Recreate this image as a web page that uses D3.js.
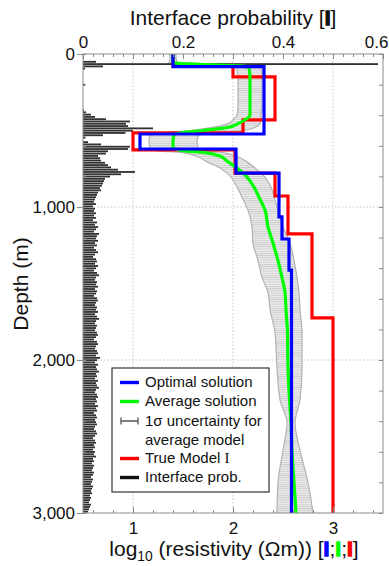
<!DOCTYPE html>
<html><head><meta charset="utf-8">
<script src="https://cdn.jsdelivr.net/npm/d3@7"></script>
<style>html,body{margin:0;padding:0;background:#fff;} svg{display:block;font-family:"Liberation Sans",Arial,sans-serif;}</style>
</head><body><svg id="c" width="389" height="566"></svg>
<script>
// ---------------- data ----------------
const probTicks = [0, 0.2, 0.4, 0.6];
const resTicks = [1, 2, 3];
const depthTicks = [0, 1000, 2000, 3000];
const resGrid = [1, 2, 3];
const depthGrid = [1000, 2000];
const maxDepth = 3000;

// True model (layer tops, log10 resistivity)
const trueTop = [0, 80, 150, 430, 516, 627, 778, 928, 1176, 1725];
const trueRes = [1.40, 2.00, 2.42, 2.10, 1.00, 2.02, 2.42, 2.55, 2.79, 3.00];

// Optimal solution
const optTop = [0, 83, 523, 621, 778, 1065, 1209, 1412];
const optRes = [1.40, 2.31, 1.07, 2.03, 2.46, 2.49, 2.56, 2.585];

// Average solution and 1-sigma bounds
const avgDepth = [0, 30, 55, 65, 72, 78, 90, 150, 250, 350, 400, 430, 455, 480, 500, 515, 530, 570, 610, 630, 645, 665, 705, 745, 790, 870, 950, 1020, 1130, 1235, 1350, 1460, 1560, 1670, 1820, 2050, 2260, 2410, 2590, 2800, 3000];
const avgRes   = [1.40, 1.40, 1.40, 1.55, 1.87, 2.08, 2.16, 2.17, 2.17, 2.17, 2.17, 2.12, 2.05, 1.95, 1.70, 1.48, 1.41, 1.40, 1.40, 1.48, 1.72, 1.86, 1.95, 2.04, 2.12, 2.21, 2.27, 2.32, 2.35, 2.40, 2.45, 2.49, 2.52, 2.53, 2.545, 2.55, 2.565, 2.58, 2.59, 2.61, 2.63];
const sdLow    = [1.37, 1.37, 1.36, 1.35, 1.60, 1.90, 2.03, 2.05, 2.05, 2.05, 2.04, 2.00, 1.95, 1.80, 1.58, 1.35, 1.17, 1.16, 1.17, 1.20, 1.50, 1.62, 1.74, 1.87, 1.96, 2.04, 2.10, 2.15, 2.19, 2.20, 2.25, 2.29, 2.35, 2.37, 2.42, 2.44, 2.47, 2.54, 2.50, 2.45, 2.44];
const sdHigh   = [1.43, 1.43, 1.45, 1.80, 2.10, 2.25, 2.28, 2.29, 2.29, 2.29, 2.28, 2.28, 2.27, 2.22, 2.10, 1.80, 1.66, 1.64, 1.65, 1.70, 1.90, 2.02, 2.14, 2.22, 2.30, 2.38, 2.42, 2.45, 2.50, 2.57, 2.61, 2.64, 2.66, 2.67, 2.69, 2.69, 2.67, 2.62, 2.67, 2.75, 2.80];

// Interface probability histogram (15 m bins from the surface)
const histBin = 15;
const interfaceProb = [
  0, 0, 0, 0.026, 0.59, 0.04, 0.004, 0, 0, 0,
  0, 0, 0, 0.004, 0, 0, 0, 0, 0, 0,
  0, 0, 0, 0, 0.002, 0.006, 0.016, 0.024, 0.046, 0.094,
  0.086, 0.09, 0.14, 0.1, 0.085, 0.04, 0.005, 0, 0.01, 0.036,
  0.094, 0.09, 0.05, 0.046, 0.03, 0.034, 0.036, 0.044, 0.05, 0.056,
  0.07, 0.104, 0.076, 0.054, 0.044, 0.042, 0.04, 0.038, 0.034, 0.036,
  0.03, 0.028, 0.026, 0.024, 0.022, 0.026, 0.02, 0.024, 0.022, 0.026,
  0.022, 0.026, 0.02, 0.028, 0.024, 0.03, 0.026, 0.022, 0.032, 0.028,
  0.026, 0.03, 0.024, 0.028, 0.022, 0.026, 0.03, 0.024, 0.02, 0.026,
  0.028, 0.024, 0.03, 0.026, 0.022, 0.028, 0.032, 0.026, 0.024, 0.028,
  0.026, 0.03, 0.024, 0.028, 0.026, 0.022, 0.028, 0.03, 0.026, 0.024,
  0.028, 0.026, 0.03, 0.024, 0.028, 0.032, 0.026, 0.024, 0.028, 0.026,
  0.024, 0.028, 0.03, 0.026, 0.022, 0.028, 0.03, 0.026, 0.024, 0.028,
  0.03, 0.026, 0.034, 0.028, 0.024, 0.03, 0.026, 0.028, 0.032, 0.026,
  0.028, 0.024, 0.03, 0.026, 0.028, 0.032, 0.026, 0.024, 0.028, 0.03,
  0.026, 0.028, 0.024, 0.03, 0.026, 0.028, 0.022, 0.026, 0.028, 0.024,
  0.026, 0.028, 0.024, 0.022, 0.026, 0.028, 0.024, 0.02, 0.024, 0.026,
  0.022, 0.024, 0.02, 0.024, 0.022, 0.026, 0.02, 0.022, 0.018, 0.022,
  0.02, 0.018, 0.022, 0.02, 0.016, 0.02, 0.018, 0.016, 0.02, 0.018,
  0.016, 0.018, 0.014, 0.016, 0.014, 0.012, 0.016, 0.014, 0.012, 0.01
];

const legendItems = ["Optimal solution", "Average solution", "1σ uncertainty for", "average model", "True Model ", "Interface prob."];

// ---------------- drawing ----------------
const P = {left: 83, right: 383, top: 54, bottom: 513};
const svg = d3.select('#c');
const xRes = d3.scaleLinear().domain([0.5, 3.5]).range([P.left, P.right]);
const xProb = d3.scaleLinear().domain([0, 0.6]).range([P.left, P.right]);
const y = d3.scaleLinear().domain([0, maxDepth]).range([P.top, P.bottom]);
const axisCol = '#8a8a8a';

const defs = svg.append('defs');
defs.append('clipPath').attr('id', 'clip').append('rect')
  .attr('x', P.left).attr('y', P.top).attr('width', P.right - P.left).attr('height', P.bottom - P.top);
const pat = defs.append('pattern').attr('id', 'hatch').attr('patternUnits', 'userSpaceOnUse')
  .attr('width', 6).attr('height', 2.2);
pat.append('rect').attr('width', 6).attr('height', 2.2).attr('fill', '#ececec');
pat.append('rect').attr('width', 6).attr('height', 0.9).attr('fill', '#cacaca');

// grid
const grid = svg.append('g');
grid.selectAll('line.v').data(resGrid).join('line')
  .attr('x1', d => xRes(d)).attr('x2', d => xRes(d)).attr('y1', P.top).attr('y2', P.bottom)
  .attr('stroke', '#c4c4c4').attr('stroke-width', 1).attr('stroke-dasharray', '1.5,2');
grid.selectAll('line.h').data(depthGrid).join('line')
  .attr('y1', d => y(d)).attr('y2', d => y(d)).attr('x1', P.left).attr('x2', P.right)
  .attr('stroke', '#c4c4c4').attr('stroke-width', 1).attr('stroke-dasharray', '1.5,2');

const plot = svg.append('g').attr('clip-path', 'url(#clip)');

// uncertainty band
const bandData = avgDepth.map((d, i) => ({d, m: avgRes[i], lo: sdLow[i], hi: sdHigh[i]}));
plot.append('path').datum(bandData)
  .attr('d', d3.area().y(d => y(d.d)).x0(d => xRes(d.lo)).x1(d => xRes(d.hi)).curve(d3.curveMonotoneY))
  .attr('fill', 'url(#hatch)').attr('stroke', 'none');
['lo', 'hi'].forEach(k => {
  plot.append('path').datum(bandData)
    .attr('d', d3.line().y(d => y(d.d)).x(d => xRes(d[k])).curve(d3.curveMonotoneY))
    .attr('fill', 'none').attr('stroke', '#b2b2b2').attr('stroke-width', 1.2);
});

// histogram
const histData = interfaceProb.map((p, i) => ({top: i * histBin, p}));
plot.selectAll('rect.hist').data(histData).join('rect')
  .attr('x', P.left).attr('y', d => y(d.top))
  .attr('width', d => xProb(d.p) - xProb(0))
  .attr('height', (y(histBin) - y(0)) * 0.8)
  .attr('fill', '#333');

// step profiles
function stepPoints(tops, vals) {
  const pts = [];
  tops.forEach((t, i) => {
    const b = i < tops.length - 1 ? tops[i + 1] : maxDepth;
    pts.push([vals[i], t], [vals[i], b]);
  });
  return pts;
}
const lineGen = d3.line().x(d => xRes(d[0])).y(d => y(d[1]));
plot.append('path').attr('d', lineGen(stepPoints(trueTop, trueRes)))
  .attr('fill', 'none').attr('stroke', '#ff0000').attr('stroke-width', 3.2);
plot.append('path').datum(bandData)
  .attr('d', d3.line().y(d => y(d.d)).x(d => xRes(d.m)).curve(d3.curveMonotoneY))
  .attr('fill', 'none').attr('stroke', '#00ff00').attr('stroke-width', 3.2);
plot.append('path').attr('d', lineGen(stepPoints(optTop, optRes)))
  .attr('fill', 'none').attr('stroke', '#0000ff').attr('stroke-width', 3.2);

// frame
svg.append('rect').attr('x', P.left).attr('y', P.top).attr('width', P.right - P.left).attr('height', P.bottom - P.top)
  .attr('fill', 'none').attr('stroke', axisCol).attr('stroke-width', 1);

function styleAxis(g, fs) {
  g.select('.domain').remove();
  g.selectAll('.tick line').attr('stroke', axisCol);
  g.selectAll('.tick text').attr('fill', '#111').attr('font-size', fs).attr('font-family', '"Liberation Sans",Arial,sans-serif');
}
// left axis
svg.append('g').attr('transform', `translate(${P.left},0)`)
  .call(d3.axisLeft(y).tickValues(d3.range(0, maxDepth + 1, 200)).tickSize(-3).tickFormat(''))
  .call(g => styleAxis(g, 17));
svg.append('g').attr('transform', `translate(${P.left},0)`)
  .call(d3.axisLeft(y).tickValues(depthTicks).tickSize(6).tickPadding(2).tickFormat(d3.format(',')))
  .call(g => styleAxis(g, 17));
// right axis
svg.append('g').attr('transform', `translate(${P.right},0)`)
  .call(d3.axisRight(y).tickValues(d3.range(0, maxDepth + 1, 200)).tickSize(-4).tickFormat(''))
  .call(g => styleAxis(g, 17));
// top axis
svg.append('g').attr('transform', `translate(0,${P.top})`)
  .call(d3.axisTop(xProb).tickValues(d3.range(0, 0.6001, 0.02)).tickSize(-3).tickFormat(''))
  .call(g => styleAxis(g, 17));
svg.append('g').attr('transform', `translate(0,${P.top})`)
  .call(d3.axisTop(xProb).tickValues(d3.range(0, 0.6001, 0.1)).tickSize(-5).tickFormat(''))
  .call(g => styleAxis(g, 17));
svg.append('g').attr('transform', `translate(0,${P.top})`)
  .call(d3.axisTop(xProb).tickValues(probTicks).tickSize(0).tickPadding(6).tickFormat(d => d === 0 ? '0' : d3.format('.1f')(d)))
  .call(g => styleAxis(g, 17))
  .call(g => g.selectAll('.tick text').filter(d => d === probTicks[probTicks.length - 1])
    .attr('text-anchor', 'end').attr('x', 388 - P.right + 0));
// bottom axis
svg.append('g').attr('transform', `translate(0,${P.bottom})`)
  .call(d3.axisBottom(xRes).tickValues(d3.range(0.6, 3.45, 0.2)).tickSize(-3).tickFormat(''))
  .call(g => styleAxis(g, 17));
svg.append('g').attr('transform', `translate(0,${P.bottom})`)
  .call(d3.axisBottom(xRes).tickValues(resTicks).tickSize(-6).tickPadding(9).tickFormat(d3.format('d')))
  .call(g => styleAxis(g, 17));

// titles
function richText(x, yb, size, parts, rotate) {
  const t = svg.append('text').attr('x', x).attr('y', yb).attr('font-size', size)
    .attr('text-anchor', 'middle').attr('fill', '#111');
  if (rotate) t.attr('transform', `rotate(-90,${x},${yb})`);
  let shifted = false;
  parts.forEach(p => {
    const ts = t.append('tspan').text(p.t);
    if (p.sub) { ts.attr('font-size', size * 0.66).attr('dy', size * 0.26); shifted = true; }
    else if (shifted) { ts.attr('dy', -size * 0.26); shifted = false; }
    if (p.bar) ts.attr('fill', p.bar).attr('stroke', p.bar).attr('stroke-width', 1.3).attr('font-weight', 'bold');
  });
  return t;
}
richText(233, 25, 21, [{t: 'Interface probability ['}, {t: 'I', bar: '#111'}, {t: ']'}]);
richText(234, 556, 21, [{t: 'log'}, {t: '10', sub: true}, {t: ' (resistivity (Ωm)) ['},
  {t: 'I', bar: '#0000ff'}, {t: ';'}, {t: 'I', bar: '#00ff00'}, {t: ';'}, {t: 'I', bar: '#ff0000'}, {t: ']'}]);
richText(28, 284, 21, [{t: 'Depth (m)'}], true);

// legend
const lg = svg.append('g');
lg.append('rect').attr('x', 112).attr('y', 368).attr('width', 157).attr('height', 124)
  .attr('fill', '#fff').attr('stroke', '#333').attr('stroke-width', 1.2);
const rowY = [382, 401, 421, 440, 458, 477];
const swatchCol = ['#0000ff', '#00ff00', null, null, '#ff0000', '#111'];
legendItems.forEach((txt, i) => {
  const t = lg.append('text').attr('x', 145).attr('y', rowY[i] + 5).attr('font-size', 15).attr('fill', '#111').text(txt);
  if (i === 4) t.append('tspan').attr('font-family', '"Liberation Serif",serif').text('I');
  if (swatchCol[i]) {
    lg.append('line').attr('x1', 120).attr('x2', 139).attr('y1', rowY[i] + 0.5).attr('y2', rowY[i] + 0.5)
      .attr('stroke', swatchCol[i]).attr('stroke-width', 3.4);
  }
});
const ey = rowY[2];
lg.append('path').attr('d', `M121,${ey}H138M121,${ey - 3.5}V${ey + 3.5}M138,${ey - 3.5}V${ey + 3.5}`)
  .attr('stroke', '#555').attr('stroke-width', 1.3).attr('fill', 'none');
</script></body></html>
